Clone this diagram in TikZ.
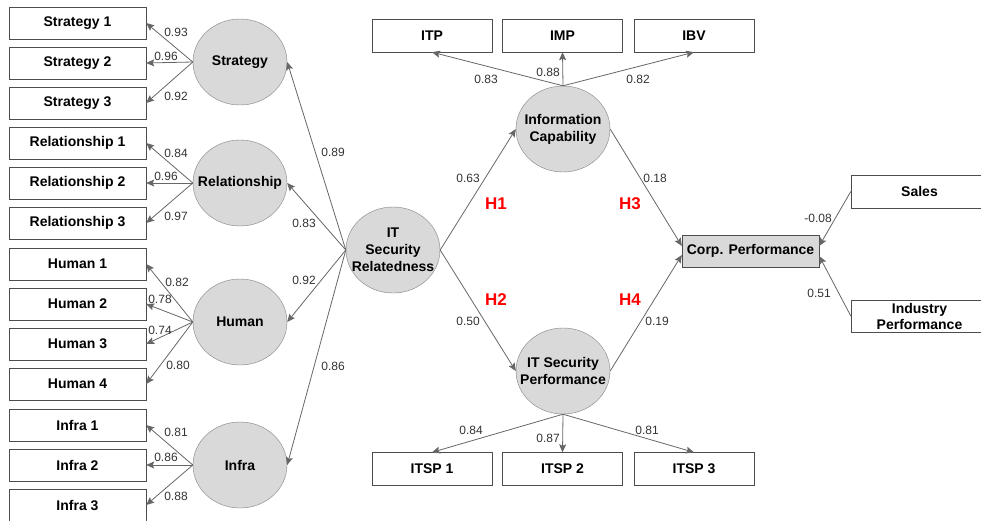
\documentclass[tikz,border=0pt]{standalone}
\usepackage{fontspec}
\setmainfont{Liberation Sans}
\usetikzlibrary{arrows.meta,calc,shapes.geometric}

\begin{document}
\begin{tikzpicture}[x=1pt,y=-1pt,
	ind/.style={draw=black!70,fill=white,minimum width=137pt,minimum height=32pt,inner sep=0pt,align=center,font=\bfseries\fontsize{14}{16}\selectfont},
	top/.style={ind,minimum width=120pt,minimum height=33pt},
	lat/.style={ellipse,draw=black!50,fill=black!15,minimum width=94pt,minimum height=86pt,inner sep=-12pt,align=center,font=\bfseries\fontsize{14}{17}\selectfont},
	wt/.style={inner sep=0pt,text=black!80,font=\fontsize{12}{12}\selectfont},
	hyp/.style={inner sep=0pt,text=red,font=\bfseries\fontsize{17}{17}\selectfont},
	every edge/.style={draw=black!60,line width=0.8pt,-{Stealth[length=8pt,width=7pt,inset=1.5pt]}}]
\clip (0,0) rectangle (981,520);

% indicators on the left
\node[ind] (S1) at (77.5,23) {Strategy 1};
\node[ind] (S2) at (77.5,63) {Strategy 2};
\node[ind] (S3) at (77.5,103) {Strategy 3};
\node[ind] (R1) at (77.5,143) {Relationship 1};
\node[ind] (R2) at (77.5,183) {Relationship 2};
\node[ind] (R3) at (77.5,223) {Relationship 3};
\node[ind] (H1) at (77.5,264) {Human 1};
\node[ind] (H2) at (77.5,304) {Human 2};
\node[ind] (H3) at (77.5,344) {Human 3};
\node[ind] (H4) at (77.5,384) {Human 4};
\node[ind] (I1) at (77.5,425) {Infra 1};
\node[ind] (I2) at (77.5,465) {Infra 2};
\node[ind] (I3) at (77.5,505) {Infra 3};

% first order constructs
\node[lat] (Str) at (240,62) {Strategy};
\node[lat] (Rel) at (240,183) {Relationship};
\node[lat] (Hum) at (240,322) {Human};
\node[lat] (Inf) at (240,465) {Infra};

\node[lat] (ITSR) at (393,250) {IT\\Security\\Relatedness};
\node[lat] (IC) at (563,129) {Information\\Capability};
\node[lat] (ITSP) at (563,371) {IT Security\\Performance};

\node[top] (ITP) at (432,35.5) {ITP};
\node[top] (IMP) at (562.5,35.5) {IMP};
\node[top] (IBV) at (694,35.5) {IBV};
\node[top] (P1) at (432,469) {ITSP 1};
\node[top] (P2) at (562.5,469) {ITSP 2};
\node[top] (P3) at (694,469) {ITSP 3};

\node[ind,fill=black!15] (CP) at (750.5,251) {Corp. Performance};
\node[ind,minimum height=33pt] (Sal) at (919.5,191.5) {Sales};
\node[ind] (Ind) at (919.5,316) {Industry\\Performance};

% loadings
\path (Str.west) edge (S1.east)
	(Str.west) edge (S2.east)
	(Str.west) edge (S3.east)
	(Rel.west) edge (R1.east)
	(Rel.west) edge (R2.east)
	(Rel.west) edge (R3.east)
	(Hum.west) edge (H1.east)
	(Hum.west) edge (H2.east)
	(Hum.west) edge (H3.east)
	(Hum.west) edge (H4.east)
	(Inf.west) edge (I1.east)
	(Inf.west) edge (I2.east)
	(Inf.west) edge (I3.east);

\path (ITSR.west) edge (Str.east)
	(ITSR.west) edge (Rel.east)
	(ITSR.west) edge (Hum.east)
	(ITSR.west) edge (Inf.east);

\path (IC.north) edge (ITP.south)
	(IC.north) edge (IMP.south)
	(IC.north) edge (IBV.south)
	(ITSP.south) edge (P1.north)
	(ITSP.south) edge (P2.north)
	(ITSP.south) edge (P3.north);

% structural paths
\path (ITSR.east) edge (IC.west)
	(ITSR.east) edge (ITSP.west)
	(IC.east) edge ($(CP.west) + (0,-5)$)
	(ITSP.east) edge ($(CP.west) + (0,4)$)
	(Sal.west) edge ($(CP.east) + (0,-5)$)
	(Ind.west) edge ($(CP.east) + (0,5)$);

% weights
\node[wt] (w1) at (176,32) {0.93};
\node[wt] (w2) at (166,56) {0.96};
\node[wt] (w3) at (176,96) {0.92};
\node[wt] (w4) at (176,153) {0.84};
\node[wt] (w5) at (166,176) {0.96};
\node[wt] (w6) at (176,216) {0.97};
\node[wt] (w7) at (177,282) {0.82};
\node[wt] (w8) at (160,299) {0.78};
\node[wt] (w9) at (160,330) {0.74};
\node[wt] (w10) at (178,365) {0.80};
\node[wt] (w11) at (176,432) {0.81};
\node[wt] (w12) at (166,457) {0.86};
\node[wt] (w13) at (176,496) {0.88};
\node[wt] (w14) at (333,152) {0.89};
\node[wt] (w15) at (304,223) {0.83};
\node[wt] (w16) at (304,280) {0.92};
\node[wt] (w17) at (333,366) {0.86};
\node[wt] (w18) at (468,178) {0.63};
\node[wt] (w19) at (468,321) {0.50};
\node[wt] (w20) at (655,178) {0.18};
\node[wt] (w21) at (657,321) {0.19};
\node[wt] (w22) at (486,79) {0.83};
\node[wt] (w23) at (548,72) {0.88};
\node[wt] (w24) at (638,79) {0.82};
\node[wt] (w25) at (471,430) {0.84};
\node[wt] (w26) at (548,438) {0.87};
\node[wt] (w27) at (647,430) {0.81};
\node[wt] (w28) at (818,218) {-0.08};
\node[wt] (w29) at (819,293) {0.51};

% hypotheses
\node[hyp] (h1) at (496,204) {H1};
\node[hyp] (h2) at (496,300) {H2};
\node[hyp] (h3) at (630,204) {H3};
\node[hyp] (h4) at (630,300) {H4};
\end{tikzpicture}
\end{document}
